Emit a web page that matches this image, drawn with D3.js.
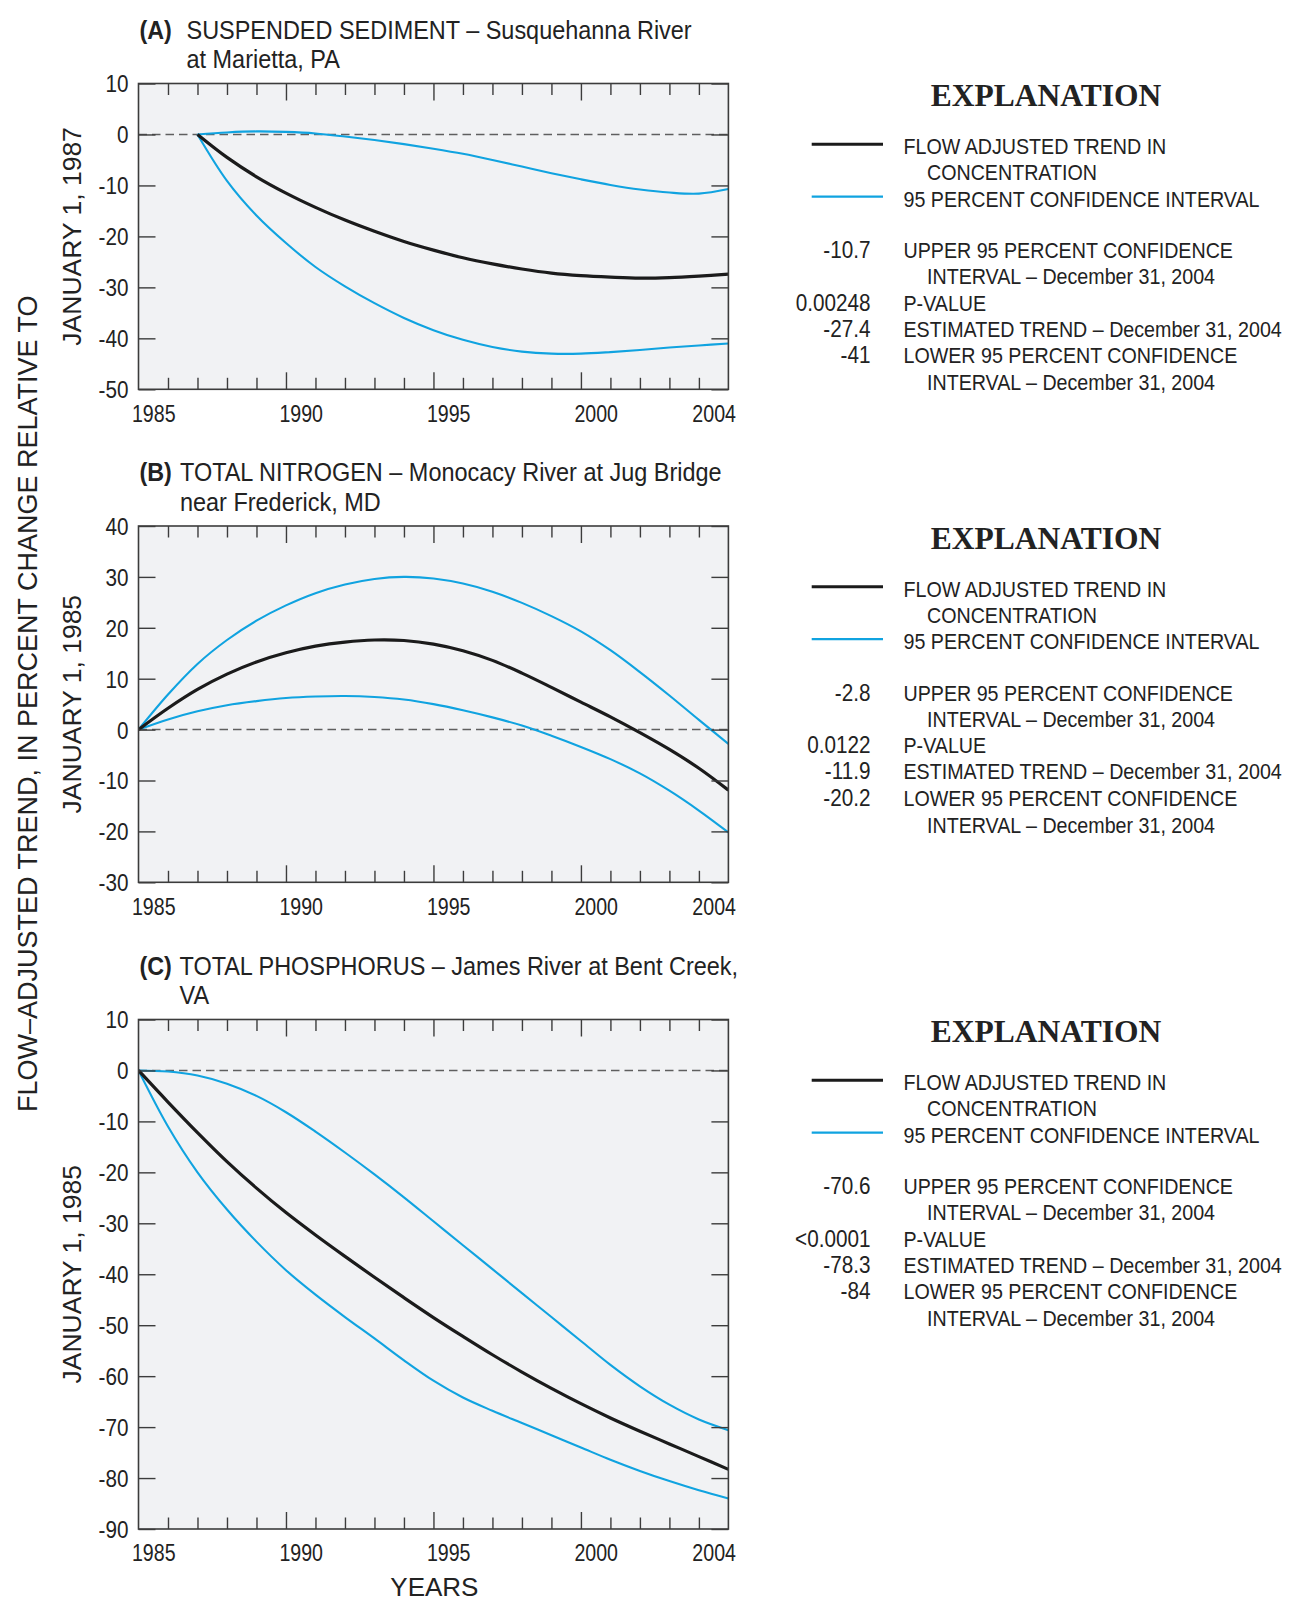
<!DOCTYPE html>
<html><head><meta charset="utf-8">
<script src="https://cdn.jsdelivr.net/npm/d3@7"></script>
<style>body{margin:0;background:#fff} svg{display:block}</style>
</head><body><svg id="c" width="1291" height="1601"></svg>
<script>
// ---------------- DATA ----------------
const yearsA = [1987,1988,1989,1990,1991,1992,1993,1994,1995,1996,1997,1998,1999,2000,2001,2002,2003,2004,2005];
const trendA = [0,-4.5,-8.3,-11.5,-14.3,-16.8,-19.0,-21.0,-22.7,-24.2,-25.4,-26.4,-27.2,-27.7,-28.0,-28.2,-28.1,-27.8,-27.4];
const upperA = [0,0.4,0.6,0.5,0.2,-0.4,-1.1,-1.9,-2.8,-3.8,-5.0,-6.3,-7.6,-8.8,-9.9,-10.8,-11.4,-11.6,-10.7];
const lowerA = [0,-9.1,-15.9,-21.3,-26.0,-29.8,-33.1,-36.0,-38.4,-40.3,-41.7,-42.6,-43.0,-43.0,-42.7,-42.3,-41.8,-41.4,-41.0];

const yearsBC = [1985,1986,1987,1988,1989,1990,1991,1992,1993,1994,1995,1996,1997,1998,1999,2000,2001,2002,2003,2004,2005];
const trendB = [0,4.2,7.9,10.9,13.3,15.1,16.4,17.2,17.6,17.5,16.8,15.5,13.6,11.1,8.3,5.4,2.5,-0.6,-3.9,-7.6,-11.9];
const upperB = [0,6.9,12.9,17.6,21.4,24.4,26.8,28.5,29.6,30.0,29.7,28.7,27.1,24.9,22.3,19.3,15.6,11.3,6.7,1.9,-2.8];
const lowerB = [0,2.0,3.6,4.8,5.6,6.2,6.5,6.6,6.4,5.9,5.0,3.8,2.4,0.8,-1.2,-3.4,-5.8,-8.6,-12.0,-15.9,-20.2];

const trendC = [0,-6.2,-12.2,-17.9,-23.1,-27.9,-32.3,-36.5,-40.6,-44.6,-48.5,-52.2,-55.8,-59.2,-62.4,-65.4,-68.2,-70.8,-73.3,-75.8,-78.3];
const upperC = [0,-0.2,-1.0,-2.6,-5.0,-8.2,-12.0,-16.1,-20.4,-24.9,-29.6,-34.3,-39.0,-43.7,-48.4,-53.1,-57.8,-62.0,-65.6,-68.5,-70.6];
const lowerC = [0,-11.0,-20.0,-27.3,-33.6,-39.2,-44.0,-48.4,-52.6,-56.9,-60.9,-64.2,-66.8,-69.2,-71.6,-74.0,-76.4,-78.6,-80.6,-82.4,-84.0];

const xTickYears = [1986,1987,1988,1989,1990,1991,1992,1993,1994,1995,1996,1997,1998,1999,2000,2001,2002,2003,2004];
const xMajorYears = [1990,1995,2000];
const xLabelYears = [1985,1990,1995,2000,2004];

const yDomainA = [-50,10], yTicksA = [-50,-40,-30,-20,-10,0,10];
const yDomainB = [-30,40], yTicksB = [-30,-20,-10,0,10,20,30,40];
const yDomainC = [-90,10], yTicksC = [-90,-80,-70,-60,-50,-40,-30,-20,-10,0,10];

const titlesA = ["(A)", "SUSPENDED SEDIMENT \u2013 Susquehanna River", "at Marietta, PA"];
const titlesB = ["(B)", "TOTAL NITROGEN \u2013 Monocacy River at Jug Bridge", "near Frederick, MD"];
const titlesC = ["(C)", "TOTAL PHOSPHORUS \u2013 James River at Bent Creek,", "VA"];
const refLabels = ["JANUARY 1, 1987", "JANUARY 1, 1985", "JANUARY 1, 1985"];

const legendValuesA = ["-10.7", "0.00248", "-27.4", "-41"];
const legendValuesB = ["-2.8", "0.0122", "-11.9", "-20.2"];
const legendValuesC = ["-70.6", "<0.0001", "-78.3", "-84"];

// ---------------- STYLE / LAYOUT ----------------
const SANS = "'Liberation Sans',Arial,Helvetica,sans-serif";
const SERIF = "'Liberation Serif','Times New Roman',serif";
const BLUE = "#10a3e0", BLACK = "#1b1b1b", AXIS = "#3c3c3c", TXT = "#222";
const SX = 0.87;   // condensed look

const svg = d3.select("#c");
const x = d3.scaleLinear().domain([1985, 2005]).range([138.5, 728.4]);

function ctext(parent, px, py, str, size, opts = {}) {
  return parent.append("text")
    .attr("transform", `translate(${px},${py}) scale(${opts.sx || SX},1)`)
    .attr("font-family", SANS).attr("font-size", size).attr("fill", TXT)
    .attr("font-weight", opts.bold ? "bold" : null)
    .attr("text-anchor", opts.anchor || "start")
    .text(str);
}

const panels = [
  {top:83.5, bottom:389.3, dom:yDomainA, ticks:yTicksA, years:yearsA, trend:trendA, up:upperA, lo:lowerA, titles:titlesA, tx:186.5, ref:refLabels[0], vals:legendValuesA},
  {top:526, bottom:882.3, dom:yDomainB, ticks:yTicksB, years:yearsBC, trend:trendB, up:upperB, lo:lowerB, titles:titlesB, tx:180, ref:refLabels[1], vals:legendValuesB},
  {top:1019.5, bottom:1529, dom:yDomainC, ticks:yTicksC, years:yearsBC, trend:trendC, up:upperC, lo:lowerC, titles:titlesC, tx:179.5, ref:refLabels[2], vals:legendValuesC}
];

const legendLines = [
  {t:"FLOW ADJUSTED TREND IN", dx:903.5, dy:70.6},
  {t:"CONCENTRATION", dx:927, dy:96.7},
  {t:"95 PERCENT CONFIDENCE INTERVAL", dx:903.5, dy:123.2},
  {t:"UPPER 95 PERCENT CONFIDENCE", dx:903.5, dy:174.6, v:0},
  {t:"INTERVAL \u2013 December 31, 2004", dx:927, dy:200.8},
  {t:"P-VALUE", dx:903.5, dy:227.2, v:1},
  {t:"ESTIMATED TREND \u2013 December 31, 2004", dx:903.5, dy:253.3, v:2},
  {t:"LOWER 95 PERCENT CONFIDENCE", dx:903.5, dy:279.9, v:3},
  {t:"INTERVAL \u2013 December 31, 2004", dx:927, dy:306.5}
];

panels.forEach((p, i) => {
  const y = d3.scaleLinear().domain(p.dom).range([p.bottom, p.top]);
  const g = svg.append("g");
  const x0 = x.range()[0], x1 = x.range()[1];

  g.append("rect").attr("x", x0).attr("y", p.top).attr("width", x1 - x0).attr("height", p.bottom - p.top)
    .attr("fill", "#f1f2f4");

  const cid = "clip" + i;
  svg.append("clipPath").attr("id", cid).append("rect")
    .attr("x", x0).attr("y", p.top).attr("width", x1 - x0).attr("height", p.bottom - p.top);

  g.append("line").attr("x1", x0).attr("x2", x1).attr("y1", y(0)).attr("y2", y(0))
    .attr("stroke", "#5f5f5f").attr("stroke-width", 1.5).attr("stroke-dasharray", "8.5,5");

  const line = d3.line().x(d => x(d[0])).y(d => y(d[1])).curve(d3.curveCatmullRom.alpha(0.5));
  const cg = g.append("g").attr("clip-path", `url(#${cid})`);
  [p.up, p.lo].forEach(s => {
    cg.append("path").attr("d", line(p.years.map((yr, k) => [yr, s[k]])))
      .attr("fill", "none").attr("stroke", BLUE).attr("stroke-width", 2.1);
  });
  cg.append("path").attr("d", line(p.years.map((yr, k) => [yr, p.trend[k]])))
    .attr("fill", "none").attr("stroke", BLACK).attr("stroke-width", 3.2);

  const minorYears = xTickYears.filter(v => !xMajorYears.includes(v));
  const styleTicks = sel => { sel.select(".domain").remove(); sel.selectAll("line").attr("stroke", AXIS).attr("stroke-width", 1.4); sel.selectAll("text").remove(); };
  g.append("g").attr("transform", `translate(0,${p.bottom})`).call(d3.axisBottom(x).tickValues(minorYears).tickSize(-11.5)).call(styleTicks);
  g.append("g").attr("transform", `translate(0,${p.bottom})`).call(d3.axisBottom(x).tickValues(xMajorYears).tickSize(-17)).call(styleTicks);
  g.append("g").attr("transform", `translate(0,${p.top})`).call(d3.axisTop(x).tickValues(minorYears).tickSize(-11.5)).call(styleTicks);
  g.append("g").attr("transform", `translate(0,${p.top})`).call(d3.axisTop(x).tickValues(xMajorYears).tickSize(-17)).call(styleTicks);

  const xl = g.append("g").attr("transform", `translate(0,${p.bottom})`)
    .call(d3.axisBottom(x).tickValues(xLabelYears.map(v => v + 0.5)).tickSize(0).tickPadding(0).tickFormat(d => String(Math.floor(d))));
  xl.select(".domain").remove();
  xl.selectAll("text").attr("y", null).attr("dy", null).attr("transform", "translate(0,32.3) scale(0.8,1)")
    .attr("font-family", SANS).attr("font-size", 24.5).attr("fill", TXT);

  const yl = g.append("g").attr("transform", `translate(${x0},0)`)
    .call(d3.axisLeft(y).tickValues(p.ticks).tickSize(-17).tickPadding(10).tickFormat(d => String(d)));
  yl.select(".domain").remove();
  yl.selectAll("line").attr("stroke", AXIS).attr("stroke-width", 1.4);
  yl.selectAll("text").attr("x", null).attr("dy", "0.36em").attr("transform", "translate(-10,0) scale(0.88,1)")
    .attr("font-family", SANS).attr("font-size", 23.5).attr("fill", TXT);
  const yr = g.append("g").attr("transform", `translate(${x1},0)`)
    .call(d3.axisRight(y).tickValues(p.ticks).tickSize(-17));
  yr.select(".domain").remove();
  yr.selectAll("line").attr("stroke", AXIS).attr("stroke-width", 1.4);
  yr.selectAll("text").remove();

  g.append("rect").attr("x", x0).attr("y", p.top).attr("width", x1 - x0).attr("height", p.bottom - p.top)
    .attr("fill", "none").attr("stroke", AXIS).attr("stroke-width", 1.6);

  ctext(g, 139.5, p.top - 45, p.titles[0], 26.5, {bold: true, sx: 0.88});
  ctext(g, p.tx, p.top - 45, p.titles[1], 26.5, {sx: 0.885});
  ctext(g, p.tx, p.top - 15.5, p.titles[2], 26.5, {sx: 0.885});

  g.append("text").attr("transform", `translate(81,${(p.top + p.bottom) / 2}) rotate(-90)`)
    .attr("text-anchor", "middle").attr("font-family", SANS).attr("font-size", 26.5).attr("fill", TXT).text(p.ref);

  const T = p.top;
  g.append("text").attr("x", 1046).attr("y", T + 22.5).attr("text-anchor", "middle")
    .attr("font-family", SERIF).attr("font-weight", "bold").attr("font-size", 31.5).attr("fill", TXT).text("EXPLANATION");
  g.append("line").attr("x1", 811.7).attr("x2", 883).attr("y1", T + 60.8).attr("y2", T + 60.8).attr("stroke", BLACK).attr("stroke-width", 3);
  g.append("line").attr("x1", 811.7).attr("x2", 883).attr("y1", T + 113.2).attr("y2", T + 113.2).attr("stroke", BLUE).attr("stroke-width", 2.2);
  legendLines.forEach(L => {
    ctext(g, L.dx, T + L.dy, L.t, 22.6);
    if (L.v !== undefined) ctext(g, 870.5, T + L.dy, p.vals[L.v], 23, {anchor: "end", sx: 0.9});
  });
});

svg.append("text").attr("transform", "translate(36.5,703.7) rotate(-90)").attr("text-anchor", "middle")
  .attr("font-family", SANS).attr("font-size", 27).attr("fill", TXT)
  .text("FLOW\u2013ADJUSTED TREND, IN PERCENT CHANGE RELATIVE TO");
svg.append("text").attr("x", 434.4).attr("y", 1595.5).attr("text-anchor", "middle")
  .attr("font-family", SANS).attr("font-size", 26).attr("fill", TXT).text("YEARS");
</script>
</body></html>
